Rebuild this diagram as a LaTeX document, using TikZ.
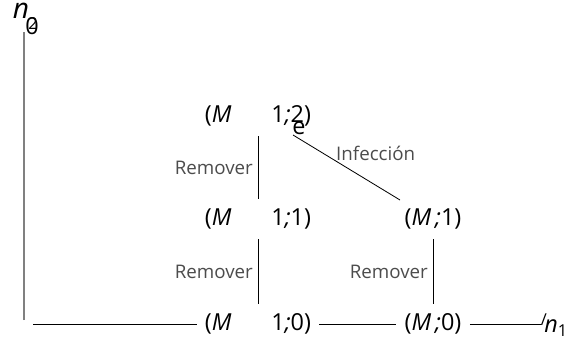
\documentclass[tikz,border=0pt]{standalone}
\usepackage{fontspec}
\setmainfont{Open Sans}
\usepackage{tikz}
\usetikzlibrary{positioning,calc}

\begin{document}
\begin{tikzpicture}[
  x=0.03cm, y=-0.03cm,
  state/.style={inner xsep=7pt,inner ysep=0pt,minimum height=1.2cm,font=\fontsize{20}{22}\selectfont},
  glyph/.style={inner sep=0pt,font=\fontsize{20}{22}\selectfont},
  rate/.style={inner sep=4pt,font=\fontsize{16}{18}\selectfont,text=black!70},
  axis/.style={line width=1pt,black!50},
  link/.style={line width=0.7pt,black}]
\useasboundingbox (0,0) rectangle (576,338);
% estados
\node[state] (mm2) at (258,116) {(\textit{M}\hspace{1.7em}1\textit{;}2)};
\node[state] (mm1) at (258,219) {(\textit{M}\hspace{1.7em}1\textit{;}1)};
\node[state] (m1) at (433,219) {(\textit{M\,;}1)};
\node[state] (mm0) at (258,324) {(\textit{M}\hspace{1.7em}1\textit{;}0)};
\node[state] (m0) at (433,324) {(\textit{M\,;}0)};
% ejes
\coordinate (o) at (33,324);
\coordinate (top) at (24,32);
\coordinate (bot) at (24,320);
\coordinate (end1) at (541,324);
\node[glyph,font=\fontsize{24}{26}\selectfont] (n2) at (21,11) {\textit{n}};
\node[glyph,font=\fontsize{14}{16}\selectfont] (sub2) at (33,24) {2};
\node[glyph] (tip2) at (32,26) {0};
\node[glyph] (n1) at (556,328) {\textit{n}\textsubscript{1}};
\node[glyph,font=\fontsize{14}{16}\selectfont] (tip1) at (544,320) {/};
\draw[axis] (bot) -- (top);
\draw[link] (o) -- (mm0.west);
\draw[link] (mm0.east) -- (m0.west);
\draw[link] (m0.east) -- (end1);
% transiciones
\draw[link] (mm2.south) -- node[rate,left] {Remover} (mm1.north);
\draw[link] (mm1.south) -- node[rate,left] {Remover} (mm0.north);
\draw[link] (m1.south) -- node[rate,left] {Remover} (m0.north);
\draw[link] ($(m1)+(-33,-19)$) -- node[rate,pos=.6,anchor=south west,inner sep=0pt] {Infección} ($(mm2)+(35,19)$);
\node[glyph] (tip) at (299,128) {e};
\end{tikzpicture}
\end{document}
